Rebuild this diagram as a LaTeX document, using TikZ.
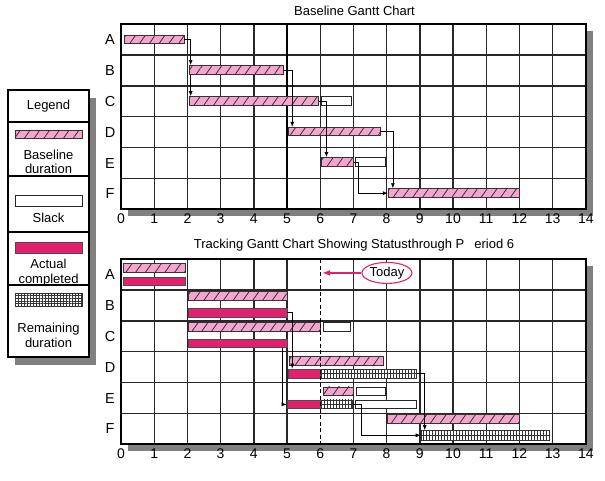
\documentclass[tikz,border=0pt]{standalone}
\usepackage{fontspec}
\setmainfont{Liberation Sans}
\usetikzlibrary{patterns.meta,arrows.meta,fit,shapes.geometric}
\definecolor{pinkbar}{RGB}{245,165,205}
\definecolor{magbar}{RGB}{228,32,110}
\definecolor{shadowgray}{RGB}{128,128,128}
\definecolor{gridc}{RGB}{40,40,40}
\tikzset{
  titlef/.style={font=\fontsize{13}{15}\selectfont, inner sep=0pt},
  axlab/.style={font=\fontsize{14}{15}\selectfont, inner sep=0pt},
  rowlab/.style={font=\fontsize{14.5}{15}\selectfont, inner sep=0pt},
  legtext/.style={font=\fontsize{13}{14.5}\selectfont, inner sep=0pt, align=center},
  gridline/.style={draw=gridc, line width=1.4pt},
  frame/.style={draw=black, line width=2pt},
  basebar/.style={draw=black!80, line width=0.8pt, inner sep=0pt,
    preaction={fill=pinkbar},
    pattern={Lines[angle=55,distance=8pt,line width=0.8pt]}, pattern color=black!80},
  actbar/.style={draw=black!70, line width=0.8pt, inner sep=0pt, fill=magbar},
  slackbar/.style={draw=black!85, line width=0.8pt, inner sep=0pt, fill=white},
  rembar/.style={draw=black!80, line width=0.8pt, inner sep=0pt, fill=white,
    path picture={
      \path[pattern={Lines[angle=90,distance=3pt,line width=0.5pt]}, pattern color=black!80]
        (path picture bounding box.south west) rectangle (path picture bounding box.north east);
      \draw[black!80, line width=0.5pt] (path picture bounding box.west) -- (path picture bounding box.east);
    }},
  rembarL/.style={draw=black!80, line width=0.8pt, inner sep=0pt, fill=white,
    path picture={
      \path[pattern={Lines[angle=90,distance=3pt,line width=0.5pt]}, pattern color=black!80]
        (path picture bounding box.south west) rectangle (path picture bounding box.north east);
      \path[pattern={Lines[angle=0,distance=2.8pt,line width=0.5pt]}, pattern color=black!80]
        (path picture bounding box.south west) rectangle (path picture bounding box.north east);
    }},
  conn/.style={draw=black, line width=0.7pt, -{Latex[length=5pt,width=4pt]}},
  todayarr/.style={draw=magbar, line width=1.3pt, -{Latex[length=8pt,width=6pt]}},
  todaybox/.style={ellipse, draw=magbar, line width=1.1pt, fill=white, minimum width=50pt,
    minimum height=21pt, inner sep=0pt, font=\fontsize{13}{15}\selectfont},
  legbox/.style={draw=black, line width=1.4pt, fill=white},
}
\begin{document}
\begin{tikzpicture}[x=1pt,y=-1pt]
\useasboundingbox (0,0) rectangle (605,480);

% titles
\node[titlef] (title1) at (354.5,11) {Baseline Gantt Chart};
\node[titlef] (title2) at (354,245) {Tracking Gantt Chart Showing Statusthrough P\hspace{10pt}eriod 6};

% ---------- legend ----------
\fill[shadowgray] (15,98) rectangle (96,365);
\draw[legbox] (8,90) rectangle (89,357);
\foreach \yy in {122,176,232,285} \draw[black, line width=1.4pt] (8,\yy) -- (89,\yy);
\node[legtext] (lgtitle) at (48.5,106) {Legend};
\node[basebar, fit={(15,130)(82,138)}] (lgbase) {};
\node[legtext] (lgbasetxt) at (48.5,162) {Baseline\\duration};
\node[slackbar, fit={(15,195)(82,206)}] (lgslack) {};
\node[legtext] (lgslacktxt) at (48.5,218) {Slack};
\node[actbar, fit={(15,242)(82,253)}] (lgact) {};
\node[legtext] (lgacttxt) at (48.5,272.5) {Actual\\completed};
\node[rembarL, fit={(15,293)(82,306)}] (lgrem) {};
\node[legtext] (lgremtxt) at (48.5,335.5) {Remaining\\duration};

% ---------- top chart ----------
\fill[shadowgray] (128,31) rectangle (593,216.4);
\fill[white] (121,24) rectangle (585.8,209.4);
\begin{scope}[shift={(121,24)}, x=33.2pt, y=-30.9pt]
  \foreach \i in {0,...,14} \draw[gridline] (\i,0) -- (\i,6);
  \foreach \j in {0,...,6} \draw[gridline] (0,\j) -- (14,\j);
  \draw[draw=black, line width=1.9pt] (5,0) -- (5,6);
  \draw[frame] (0,0) rectangle (14,6);
  \foreach \i in {0,...,14} \node[axlab] (tx\i) at (\i,6.3) {\i};
  \foreach \r/\n in {0/A,1/B,2/C,3/D,4/E,5/F} \node[rowlab] (tr\n) at (-0.33,\r+0.5) {\n};

  \node[basebar, fit={(0.1,0.36)(1.9,0.64)}] (tA) {};
  \node[basebar, fit={(2.05,1.34)(4.9,1.63)}] (tB) {};
  \node[basebar, fit={(2.05,2.35)(5.95,2.64)}] (tC) {};
  \node[slackbar, fit={(6.05,2.35)(6.95,2.64)}] (tCs) {};
  \node[basebar, fit={(5.05,3.34)(7.8,3.62)}] (tD) {};
  \node[basebar, fit={(6.05,4.32)(7.0,4.61)}] (tE) {};
  \node[slackbar, fit={(7.05,4.32)(7.95,4.61)}] (tEs) {};
  \node[basebar, fit={(8.05,5.33)(12.0,5.62)}] (tF) {};

  \draw[conn] (tA.east) -| ([xshift=2pt]tB.north west);
  \draw[conn] ([xshift=2pt]tB.south west) -- ([xshift=2pt]tC.north west);
  \draw[conn] (tB.east) -| ([xshift=4pt]tD.north west);
  \draw[conn] (tC.east) -| ([xshift=5pt]tE.north west);
  \draw[conn] (tD.east) -| ([xshift=5pt]tF.north west);
  \draw[conn] (tE.east) -- ([xshift=5pt]tE.east) |- (tF.west);
\end{scope}

% ---------- bottom chart ----------
\fill[shadowgray] (128,266) rectangle (593,451.4);
\fill[white] (121,259) rectangle (585.8,444.4);
\begin{scope}[shift={(121,259)}, x=33.2pt, y=-30.9pt]
  \foreach \i in {0,1,2,3,4,5,7,8,9,10,11,12,13,14} \draw[gridline] (\i,0) -- (\i,6);
  \foreach \j in {0,...,6} \draw[gridline] (0,\j) -- (14,\j);
  \draw[frame] (0,0) rectangle (14,6);
  \foreach \i in {0,...,14} \node[axlab] (bx\i) at (\i,6.3) {\i};
  \foreach \r/\n in {0/A,1/B,2/C,3/D,4/E,5/F} \node[rowlab] (br\n) at (-0.33,\r+0.5) {\n};

  \node[basebar, fit={(0.06,0.13)(1.93,0.42)}] (bA) {};
  \node[actbar, fit={(0.06,0.58)(1.93,0.87)}] (aA) {};
  \node[basebar, fit={(2.02,1.04)(5.0,1.33)}] (bB) {};
  \node[actbar, fit={(2.02,1.59)(5.0,1.88)}] (aB) {};
  \node[basebar, fit={(2.02,2.04)(6.02,2.33)}] (bC) {};
  \node[slackbar, fit={(6.1,2.04)(6.9,2.33)}] (sC) {};
  \node[actbar, fit={(2.02,2.59)(5.0,2.86)}] (aC) {};
  \node[basebar, fit={(5.06,3.14)(7.89,3.43)}] (bD) {};
  \node[actbar, fit={(5.05,3.56)(6.0,3.85)}] (aD) {};
  \node[rembar, fit={(6.05,3.56)(8.9,3.85)}] (rD) {};
  \node[basebar, fit={(6.1,4.14)(7.0,4.43)}] (bE) {};
  \node[slackbar, fit={(7.1,4.14)(7.95,4.43)}] (sE) {};
  \node[actbar, fit={(5.0,4.56)(6.0,4.85)}] (aE) {};
  \node[rembar, fit={(6.05,4.56)(6.97,4.85)}] (rE) {};
  \node[slackbar, fit={(7.07,4.56)(8.9,4.85)}] (sE2) {};
  \node[basebar, fit={(8.02,5.03)(12.0,5.32)}] (bF) {};
  \node[rembar, fit={(9.04,5.55)(12.9,5.86)}] (rF) {};

  \draw[conn] (aB.east) -| ([xshift=4pt]aD.north west);
  \draw[conn] ([xshift=-5pt]aC.south east) |- (aE.west);
  \draw[conn] (rD.east) -| ([xshift=4pt]rF.north west);
  \draw[conn] (rE.east) -- ([xshift=9pt]rE.east) |- (rF.west);

  \draw[black, line width=1.3pt, dash pattern=on 4pt off 2.5pt] (6,0) -- (6,6);
  \node[todaybox] (today) at (8.01,0.45) {Today};
  \coordinate (todaymk) at (6.06,0.45);
  \draw[todayarr] (today.west) -- (todaymk);
\end{scope}
\end{tikzpicture}
\end{document}
